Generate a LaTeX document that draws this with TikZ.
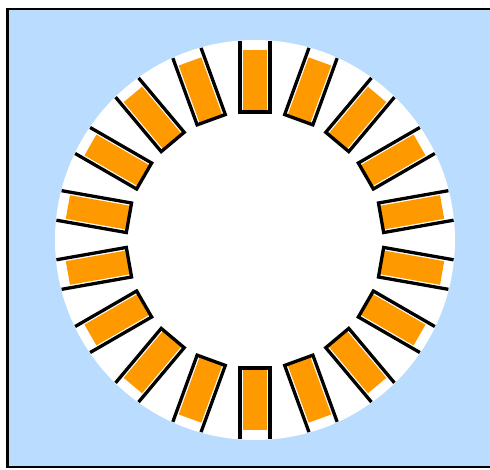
\documentclass[tikz,border=0pt]{standalone}
\usepackage{xcolor}
\definecolor{bgblue}{RGB}{185,220,255}
\definecolor{coilorange}{RGB}{255,153,0}

\begin{document}
\begin{tikzpicture}[x=1pt, y=-1pt,
  slotline/.style={draw=black, line width=3.3pt},
  coil/.style={fill=coilorange},
  frame/.style={draw=black, line width=2.6pt, fill=bgblue}
]
\useasboundingbox (0,0) rectangle (490,470);
\clip (0,0) rectangle (490,470);
\path[frame] (7.5,9) rectangle (505,467);
\fill[white] (255,240) circle (200);
\foreach \a in {10,30,...,350} {
  \begin{scope}[shift={(255,240)}, rotate=-\a]
    \fill[coil] (128,-12) rectangle (190,12);
    \draw[slotline] (199,-15) -- (128,-15) -- (128,15) -- (199,15);
  \end{scope}
}
\end{tikzpicture}
\end{document}
